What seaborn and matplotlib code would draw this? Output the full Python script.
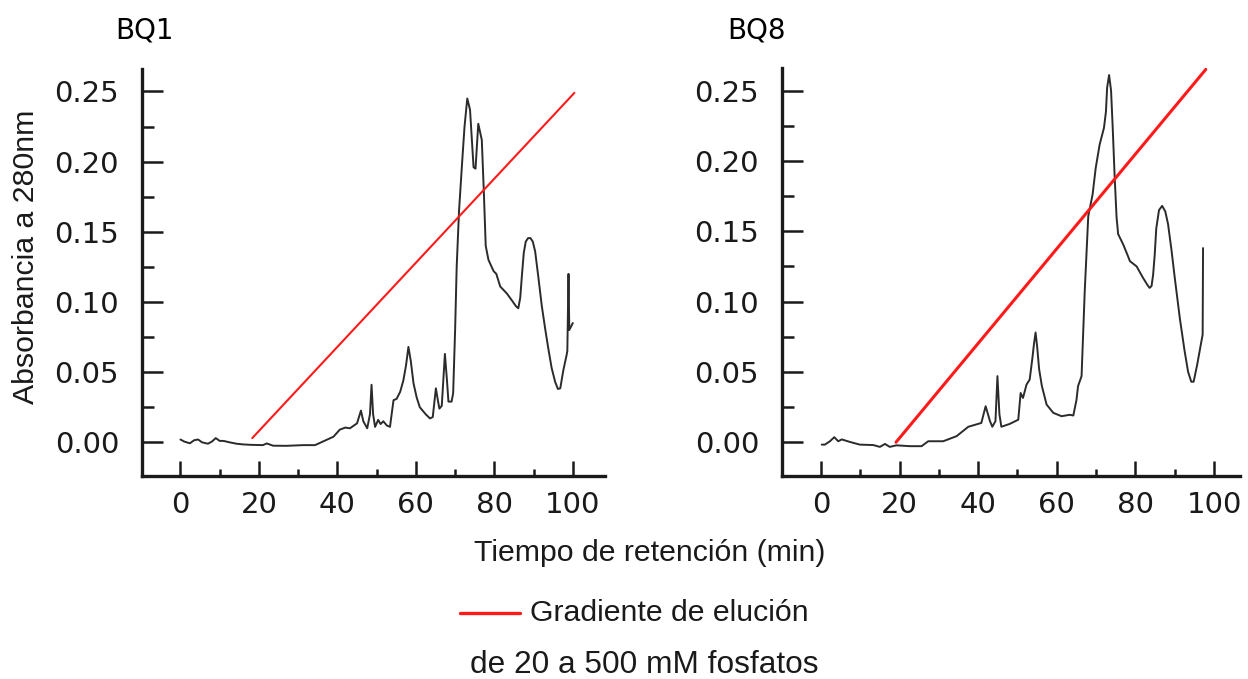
import numpy as np
import pandas as pd
import matplotlib
matplotlib.use("Agg")
import matplotlib.pyplot as plt
from matplotlib.lines import Line2D
from matplotlib.ticker import MultipleLocator, FormatStrFormatter
import seaborn as sns

# ---------------- data ----------------
bq1_time = [0, 1, 2.4, 3.5, 4.5, 5.5, 7, 8, 9, 10, 11, 12.5, 14.3, 16, 18, 21, 22, 23.6, 27,
            31.3, 34.3, 37.2, 39, 40.6, 42, 43.2, 45, 46, 46.6, 47.6, 48.3, 48.7, 49.1, 49.6,
            50.4, 51, 51.7, 52.6, 53.4, 54.3, 55.1, 56, 56.8, 57.5, 58.1, 58.7, 59.4, 60.2, 61,
            62.5, 63.6, 64.3, 65.1, 65.6, 66, 66.6, 67.4, 67.9, 68.3, 69.1, 69.5, 70.0, 70.4,
            71.0, 71.8, 72.4, 73.1, 73.8, 74.7, 75.2, 75.9, 76.8, 77.3, 77.8, 78.5, 79.8, 80.5,
            81.5, 83.2, 84.5, 85.5, 86.1, 86.6, 87.0, 87.5, 88.0, 88.6, 89.2, 89.8, 90.4, 91.2,
            92.1, 93.0, 93.8, 94.6, 95.5, 96.2, 96.8, 97.6, 98.4, 98.6, 98.9, 99.1, 100]
bq1_abs = [0.002, 0.0005, -0.0007, 0.0015, 0.002, 0.0, -0.001, 0.0005, 0.003, 0.001, 0.001, 0.0,
           -0.001, -0.0015, -0.0018, -0.002, -0.0008, -0.0024, -0.0025, -0.002, -0.002, 0.0017,
           0.004, 0.009, 0.0105, 0.010, 0.0135, 0.0226, 0.015, 0.010, 0.020, 0.041, 0.020, 0.011,
           0.016, 0.013, 0.015, 0.012, 0.011, 0.030, 0.031, 0.036, 0.044, 0.055, 0.068, 0.058,
           0.042, 0.032, 0.025, 0.020, 0.017, 0.018, 0.0385, 0.030, 0.024, 0.026, 0.063, 0.045,
           0.029, 0.029, 0.035, 0.080, 0.125, 0.165, 0.200, 0.225, 0.245, 0.237, 0.196, 0.195,
           0.227, 0.2155, 0.180, 0.140, 0.130, 0.122, 0.120, 0.111, 0.106, 0.101, 0.097, 0.0955,
           0.103, 0.118, 0.135, 0.143, 0.1455, 0.1455, 0.143, 0.136, 0.118, 0.097, 0.080, 0.066,
           0.053, 0.043, 0.038, 0.0385, 0.0516, 0.062, 0.065, 0.120, 0.080, 0.085]

bq8_time = [0.2, 1, 2.3, 3.4, 4.4, 5.3, 7.4, 9.9, 13.3, 15, 16.3, 17.5, 19.2, 22.6, 25.6, 27.3,
            31.1, 34.5, 37.5, 40.8, 41.9, 43.0, 43.6, 44.4, 44.9, 45.4, 45.9, 48, 50.2, 50.8,
            51.4, 52.3, 53.1, 53.8, 54.2, 54.6, 55.0, 55.5, 56.2, 57.4, 59.1, 61.2, 63.3, 64.2,
            65.0, 65.4, 66.3, 67.1, 68.0, 69.1, 69.9, 70.9, 72.0, 72.5, 72.8, 73.3, 73.8, 74.2,
            74.7, 75.2, 75.6, 76.9, 78.0, 78.6, 80.3, 81.9, 83.0, 83.6, 84.1, 84.5, 84.9, 85.3,
            86.0, 86.8, 87.6, 88.3, 89.2, 90.0, 91.3, 92.5, 93.4, 94.2, 94.8, 95.7, 96.8, 97.1,
            97.2]
bq8_abs = [-0.0017, -0.0017, 0.0007, 0.0036, 0.0007, 0.002, 0.0002, -0.0017, -0.002, -0.0033,
           -0.0012, -0.0033, -0.0022, -0.0028, -0.0028, 0.0007, 0.0007, 0.0043, 0.011, 0.0137,
           0.0256, 0.015, 0.011, 0.015, 0.047, 0.020, 0.011, 0.013, 0.016, 0.035, 0.0315, 0.041,
           0.0445, 0.060, 0.070, 0.078, 0.068, 0.052, 0.040, 0.0268, 0.0209, 0.0185, 0.0195,
           0.019, 0.030, 0.0398, 0.047, 0.107, 0.1607, 0.176, 0.195, 0.2116, 0.2235, 0.235,
           0.252, 0.261, 0.250, 0.225, 0.190, 0.160, 0.148, 0.1405, 0.133, 0.1287, 0.125, 0.117,
           0.112, 0.1097, 0.111, 0.119, 0.133, 0.152, 0.165, 0.168, 0.164, 0.155, 0.136, 0.117,
           0.088, 0.065, 0.050, 0.043, 0.043, 0.055, 0.072, 0.0765, 0.138]

bq1_grad_time = [18.3, 100.4]
bq1_grad_abs = [0.003, 0.249]
bq8_grad_time = [19.1, 97.9]
bq8_grad_abs = [0.0, 0.265]

panel_titles = ["BQ1", "BQ8"]
x_ticks = [0, 20, 40, 60, 80, 100]
y_ticks = [0.00, 0.05, 0.10, 0.15, 0.20, 0.25]

ylabel_text = "Absorbancia a 280nm"
xlabel_text = "Tiempo de retención (min)"
legend_line1 = "Gradiente de elución"
legend_line2 = "de 20 a 500 mM fosfatos"

# ---------------- styling ----------------
sns.set_theme(style="white")
plt.rcParams["font.family"] = ["DejaVu Sans"]

W, H = 1248, 679
fig = plt.figure(figsize=(W / 100, H / 100), dpi=100)
fig.patch.set_facecolor("white")

ax1 = fig.add_axes([142 / W, 1 - 476 / H, 463 / W, 407 / H])
ax2 = fig.add_axes([782 / W, 1 - 476 / H, 458 / W, 408 / H])

panels = [
    (ax1, bq1_time, bq1_abs, bq1_grad_time, bq1_grad_abs, (-9.8, 108.2), 1.5, 145),
    (ax2, bq8_time, bq8_abs, bq8_grad_time, bq8_grad_abs, (-9.9, 106.6), 2.2, 756),
]

for i, (ax, t, a, gt, ga, xlim, glw, tx) in enumerate(panels):
    df = pd.DataFrame({"t": t, "a": a})
    gdf = pd.DataFrame({"t": gt, "a": ga})
    sns.lineplot(data=df, x="t", y="a", ax=ax, color="#2b2b2b", lw=1.4,
                 estimator=None, sort=False)
    sns.lineplot(data=gdf, x="t", y="a", ax=ax, color="#ff1a1a", lw=glw,
                 estimator=None, sort=False)
    ax.set_xlim(*xlim)
    ax.set_ylim(-0.024, 0.266)
    ax.set_xlabel("")
    ax.set_ylabel("")
    ax.set_facecolor("white")
    for s in ["top", "right"]:
        ax.spines[s].set_visible(False)
    for s in ["left", "bottom"]:
        ax.spines[s].set_linewidth(2.4)
        ax.spines[s].set_color("#1a1a1a")
    ax.set_xticks(x_ticks)
    ax.set_yticks(y_ticks)
    ax.xaxis.set_minor_locator(MultipleLocator(10))
    ax.yaxis.set_minor_locator(MultipleLocator(0.025))
    ax.yaxis.set_major_formatter(FormatStrFormatter("%.2f"))
    ax.tick_params(axis="y", which="major", direction="in", length=15, width=1.8,
                   pad=16.5, labelsize=21, colors="#1a1a1a", left=True)
    ax.tick_params(axis="y", which="minor", direction="in", length=8.4, width=1.8,
                   colors="#1a1a1a", left=True)
    ax.tick_params(axis="x", which="major", direction="in", length=10.8, width=1.8,
                   pad=11, labelsize=21, colors="#1a1a1a", bottom=True)
    ax.tick_params(axis="x", which="minor", direction="in", length=5.3, width=1.8,
                   colors="#1a1a1a", bottom=True)
    ax.grid(False)
    fig.text(tx / W, 1 - 30 / H, panel_titles[i], ha="center", va="center",
             fontsize=20, family="DejaVu Sans", color="black")

fig.text(26 / W, 1 - 257 / H, ylabel_text, rotation=90, ha="center", va="center",
         fontsize=21.8, family="Liberation Sans", color="#1a1a1a")
fig.text(650 / W, 1 - 553 / H, xlabel_text, ha="center", va="center",
         fontsize=21.8, family="Liberation Sans", color="#1a1a1a")

fig.add_artist(Line2D([460 / W, 520 / W], [1 - 613 / H, 1 - 613 / H],
                      transform=fig.transFigure, color="#ff1a1a", lw=2.4))
fig.text(530 / W, 1 - 613 / H, legend_line1, ha="left", va="center",
         fontsize=21.8, family="Liberation Sans", color="#1a1a1a")
fig.text(644 / W, 1 - 665 / H, legend_line2, ha="center", va="center",
         fontsize=22.8, family="Liberation Sans", color="#1a1a1a")

fig.savefig("out.png", dpi=100, facecolor="white")
